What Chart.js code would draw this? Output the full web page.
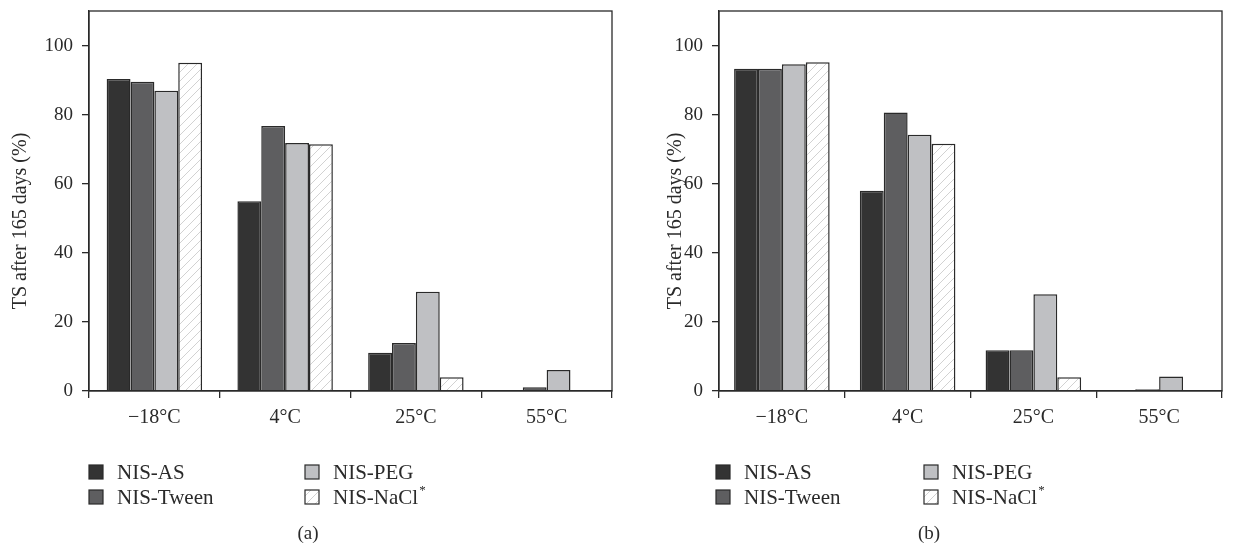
<!DOCTYPE html>
<html>
<head>
<meta charset="utf-8">
<script src="https://cdn.jsdelivr.net/npm/chart.js@4.4.1/dist/chart.umd.min.js"></script>
<style>
  html, body { margin: 0; padding: 0; background: #fff; }
  .panel { position: absolute; top: 0; height: 546px; }
  #panelA { left: 0; width: 620px; }
  #panelB { left: 620px; width: 622px; }
</style>
</head>
<body>
<div class="panel" id="panelA"><canvas id="chartA" width="620" height="546"></canvas></div>
<div class="panel" id="panelB"><canvas id="chartB" width="622" height="546"></canvas></div>
<script>
// --- Data ---
const categories = ['\u221218\u00B0C', '4\u00B0C', '25\u00B0C', '55\u00B0C'];
const seriesNames = ['NIS-AS', 'NIS-Tween', 'NIS-PEG', 'NIS-NaCl*'];

// panel (a)
const asA    = [90.3, 54.9, 11.1, 0];
const tweenA = [89.5, 76.7, 13.9, 1.1];
const pegA   = [86.9, 71.8, 28.7, 6.1];
const naclA  = [95.0, 71.4, 4.0, 0];

// panel (b)
const asB    = [93.3, 58.0, 11.8, 0.3];
const tweenB = [93.3, 80.6, 11.8, 0.5];
const pegB   = [94.6, 74.2, 28.0, 4.2];
const naclB  = [95.2, 71.6, 4.0, 0];

const yTicks = [0, 20, 40, 60, 80, 100];

// --- Helpers ---
const FONT = '"Liberation Serif", "DejaVu Serif", serif';
const INK = '#2a2a2a';

const makeHatch = () => {
    const c = document.createElement('canvas');
    c.width = 9; c.height = 9;
    const g = c.getContext('2d');
    g.fillStyle = '#ffffff';
    g.fillRect(0, 0, 9, 9);
    g.strokeStyle = '#d2d2d2';
    g.lineWidth = 1;
    g.beginPath();
    g.moveTo(-1, 10); g.lineTo(10, -1);
    g.stroke();
    return g.createPattern(c, 'repeat');
};
const hatch = makeHatch();
const fills = ['#333333', '#5e5e60', '#bfc0c3', hatch];

// box around the plot area + y title + legend + caption
const framePlugin = {
    id: 'frame',
    afterDraw(chart, args, opts) {
        const { ctx, chartArea: a } = chart;
        ctx.save();
        ctx.strokeStyle = INK;
        ctx.lineWidth = 1.3;
        ctx.strokeRect(a.left, a.top, a.right - a.left, a.bottom - a.top);

        // y title
        ctx.fillStyle = INK;
        ctx.font = '20px ' + FONT;
        ctx.textAlign = 'center';
        ctx.textBaseline = 'middle';
        ctx.save();
        ctx.translate(opts.titleX, 221);
        ctx.rotate(-Math.PI / 2);
        ctx.fillText('TS after 165 days (%)', 0, 0);
        ctx.restore();

        // legend, two columns
        ctx.font = '21px ' + FONT;
        ctx.textAlign = 'left';
        chart.data.datasets.forEach((ds, i) => {
            const col = Math.floor(i / 2), row = i % 2;
            const x = opts.legendX[col];
            const y = 472 + row * 25;
            ctx.fillStyle = ds.backgroundColor;
            ctx.fillRect(x, y - 7, 14, 14);
            ctx.strokeStyle = INK;
            ctx.lineWidth = 1.2;
            ctx.strokeRect(x, y - 7, 14, 14);
            ctx.fillStyle = INK;
            const name = ds.label;
            if (name.endsWith('*')) {
                const base = name.slice(0, -1);
                ctx.fillText(base, x + 28, y + 1);
                const w = ctx.measureText(base).width;
                ctx.font = '13px ' + FONT;
                ctx.fillText('*', x + 28 + w + 1, y - 6);
                ctx.font = '21px ' + FONT;
            } else {
                ctx.fillText(name, x + 28, y + 1);
            }
        });

        // caption
        ctx.font = '19px ' + FONT;
        ctx.textAlign = 'center';
        ctx.fillText(opts.caption, opts.captionX, 534);
        ctx.restore();
    }
};

const buildChart = (id, values, cfg) => {
    const ctx = document.getElementById(id).getContext('2d');
    return new Chart(ctx, {
        type: 'bar',
        data: {
            labels: categories,
            datasets: values.map((v, i) => ({
                label: seriesNames[i],
                data: v,
                backgroundColor: fills[i],
                borderColor: INK,
                borderWidth: 1.5,
                categoryPercentage: cfg.groupWidth,
                barPercentage: 1
            }))
        },
        options: {
            responsive: false,
            animation: false,
            layout: { padding: { top: 11, right: cfg.padRight, left: 0, bottom: 0 } },
            plugins: {
                legend: { display: false },
                tooltip: { enabled: false },
                frame: { titleX: cfg.titleX, legendX: cfg.legendX, caption: cfg.caption, captionX: cfg.captionX }
            },
            scales: {
                x: {
                    offset: true,
                    grid: { offset: true, drawOnChartArea: false, drawTicks: true, tickLength: 7, color: INK, lineWidth: 1.3 },
                    border: { display: true, color: INK, width: 1.3 },
                    ticks: { color: INK, font: { family: FONT, size: 20 }, padding: 8 },
                    afterFit: (s) => { s.height = 155; s.paddingLeft = 0; s.paddingRight = 0; }
                },
                y: {
                    min: 0,
                    max: 110,
                    grid: { drawOnChartArea: false, drawTicks: true, tickLength: 7, color: INK, lineWidth: 1.3 },
                    border: { display: true, color: INK, width: 1.3 },
                    ticks: { stepSize: 20, color: INK, font: { family: FONT, size: 19 }, padding: 9 },
                    afterBuildTicks: (s) => { s.ticks = yTicks.map(v => ({ value: v })); },
                    afterFit: (s) => { s.width = cfg.axisWidth; s.paddingTop = 0; s.paddingBottom = 0; }
                }
            }
        },
        plugins: [framePlugin]
    });
};

buildChart('chartA', [asA, tweenA, pegA, naclA], {
    groupWidth: 0.73, padRight: 8, axisWidth: 89,
    titleX: 21, legendX: [89, 305], caption: '(a)', captionX: 308
});
buildChart('chartB', [asB, tweenB, pegB, naclB], {
    groupWidth: 0.76, padRight: 20, axisWidth: 99,
    titleX: 56, legendX: [96, 304], caption: '(b)', captionX: 309
});
</script>
</body>
</html>
